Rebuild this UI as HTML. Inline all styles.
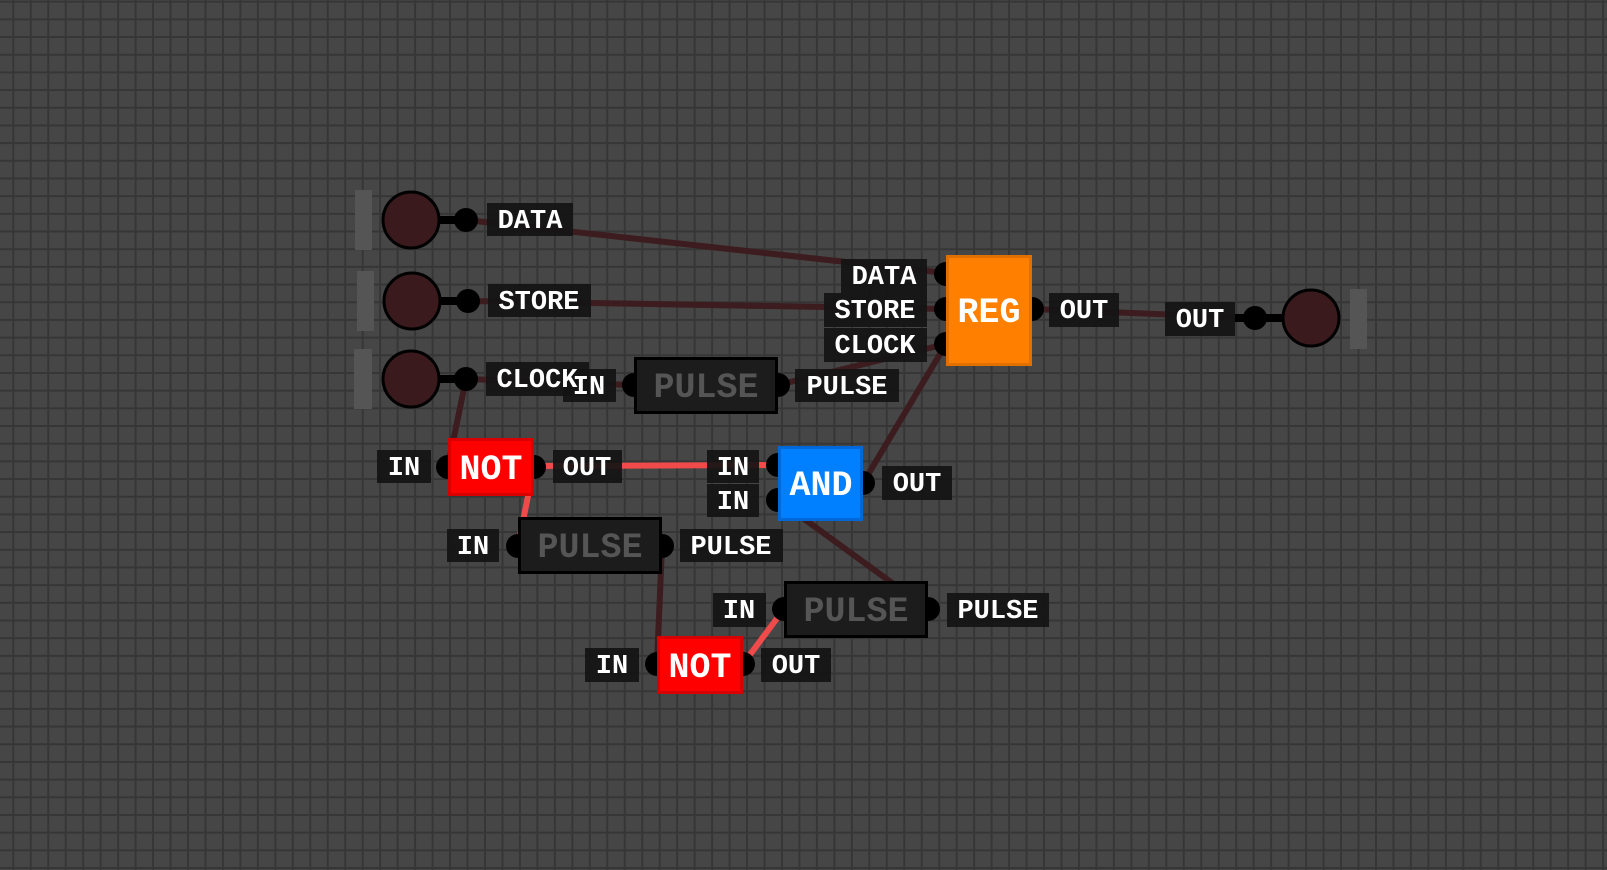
<!DOCTYPE html>
<html><head><meta charset="utf-8"><style>
html,body{margin:0;padding:0;background:#464646;}
svg{display:block;}
.l{fill:#141414;fill-opacity:.92}
.lt{font-family:"Liberation Mono",monospace;font-weight:bold;font-size:27px;fill:#fff;text-anchor:middle;dominant-baseline:central}
.nt{font-family:"Liberation Mono",monospace;font-weight:bold;font-size:35px;text-anchor:middle;dominant-baseline:central}
.w{stroke:#3c1c1e;stroke-width:6;fill:none}
.r{stroke:#f04a4a;stroke-width:6;fill:none}
</style></head><body>
<svg width="1607" height="870" viewBox="0 0 1607 870" xmlns="http://www.w3.org/2000/svg">
<defs>
<pattern id="gx" width="17.47" height="870" patternUnits="userSpaceOnUse" x="12.3" y="0"><rect width="2" height="870" fill="#363636"/></pattern>
<pattern id="gy" width="1607" height="17.68" patternUnits="userSpaceOnUse" x="0" y="0.7"><rect width="1607" height="2" fill="#363636"/></pattern>
</defs>
<rect width="1607" height="870" fill="#464646"/>
<rect width="1607" height="870" fill="url(#gx)"/>
<rect width="1607" height="870" fill="url(#gy)"/>

<line class="w" x1="466" y1="220" x2="946" y2="273"/>
<line class="w" x1="468" y1="301" x2="946" y2="309"/>
<line class="w" x1="466" y1="379" x2="632" y2="385"/>
<line class="w" x1="778" y1="385" x2="946" y2="344"/>
<line class="w" x1="466" y1="379" x2="448" y2="466"/>
<line class="w" x1="662" y1="546" x2="657" y2="664"/>
<line class="w" x1="928" y1="609" x2="778" y2="500"/>
<line class="w" x1="863" y1="483" x2="946" y2="344"/>
<line class="w" x1="1032" y1="309" x2="1255" y2="318"/>
<line class="r" x1="534" y1="466" x2="778" y2="465"/>
<line class="r" x1="534" y1="466" x2="518" y2="546"/>
<line class="r" x1="743" y1="664" x2="784" y2="609"/>

<rect x="355" y="190" width="17" height="60" fill="#555"/>
<rect x="357" y="271" width="17" height="60" fill="#555"/>
<rect x="354" y="349" width="18" height="60" fill="#555"/>
<g stroke="#000" stroke-width="8"><line x1="430" y1="220" x2="466" y2="220"/><line x1="430" y1="301" x2="468" y2="301"/><line x1="430" y1="379" x2="466" y2="379"/><line x1="1235" y1="318" x2="1290" y2="318"/></g>
<g fill="#3a1a1c" stroke="#000" stroke-width="3">
<circle cx="411" cy="220" r="28"/><circle cx="412" cy="301" r="28"/><circle cx="411" cy="379" r="28"/><circle cx="1311" cy="318" r="28"/>
</g>
<g fill="#000"><circle cx="466" cy="220" r="12"/><circle cx="468" cy="301" r="12"/><circle cx="466" cy="379" r="12"/><circle cx="1255" cy="318" r="12"/></g>
<rect x="1350" y="289" width="17" height="60" fill="#555"/>

<rect class="l" x="487" y="203" width="86" height="33"/><text class="lt" x="530" y="220" dy="2">DATA</text>
<rect class="l" x="488" y="284" width="103" height="33"/><text class="lt" x="539" y="301" dy="2">STORE</text>
<rect class="l" x="486" y="362" width="103" height="34"/>
<rect class="l" x="563" y="369" width="53" height="33"/><text class="lt" x="589" y="386" dy="2">IN</text>
<text class="lt" x="537" y="379" dy="2">CLOCK</text>
<rect class="l" x="795" y="369" width="104" height="33"/><text class="lt" x="847" y="386" dy="2">PULSE</text>
<rect class="l" x="841" y="259" width="86" height="34"/><text class="lt" x="884" y="276" dy="2">DATA</text>
<rect class="l" x="824" y="293" width="103" height="34"/><text class="lt" x="875" y="310" dy="2">STORE</text>
<rect class="l" x="824" y="328" width="103" height="34"/><text class="lt" x="875" y="345" dy="2">CLOCK</text>
<rect class="l" x="1049" y="293" width="70" height="34"/><text class="lt" x="1084" y="310" dy="2">OUT</text>
<rect class="l" x="1165" y="302" width="70" height="34"/><text class="lt" x="1200" y="319" dy="2">OUT</text>
<rect class="l" x="377" y="450" width="54" height="33"/><text class="lt" x="404" y="467" dy="2">IN</text>
<rect class="l" x="553" y="450" width="69" height="33"/><text class="lt" x="587" y="467" dy="2">OUT</text>
<rect class="l" x="707" y="450" width="52" height="33"/><text class="lt" x="733" y="467" dy="2">IN</text>
<rect class="l" x="707" y="484" width="52" height="33"/><text class="lt" x="733" y="501" dy="2">IN</text>
<rect class="l" x="882" y="466" width="70" height="34"/><text class="lt" x="917" y="483" dy="2">OUT</text>
<rect class="l" x="447" y="529" width="52" height="33"/><text class="lt" x="473" y="546" dy="2">IN</text>
<rect class="l" x="680" y="529" width="103" height="33"/><text class="lt" x="731" y="546" dy="2">PULSE</text>
<rect class="l" x="713" y="593" width="53" height="34"/><text class="lt" x="739" y="610" dy="2">IN</text>
<rect class="l" x="947" y="593" width="102" height="34"/><text class="lt" x="998" y="610" dy="2">PULSE</text>
<rect class="l" x="585" y="648" width="54" height="34"/><text class="lt" x="612" y="665" dy="2">IN</text>
<rect class="l" x="761" y="648" width="70" height="34"/><text class="lt" x="796" y="665" dy="2">OUT</text>

<g fill="#000">
<circle cx="634" cy="385" r="12"/><circle cx="778" cy="385" r="12"/>
<circle cx="946" cy="274" r="12"/><circle cx="946" cy="309" r="12"/><circle cx="946" cy="344" r="12"/><circle cx="1032" cy="309" r="12"/>
<circle cx="448" cy="467" r="12"/><circle cx="534" cy="467" r="12"/>
<circle cx="778" cy="465" r="12"/><circle cx="778" cy="500" r="12"/><circle cx="863" cy="483" r="12"/>
<circle cx="518" cy="546" r="12"/><circle cx="662" cy="546" r="12"/>
<circle cx="784" cy="609" r="12"/><circle cx="928" cy="609" r="12"/>
<circle cx="657" cy="664" r="12"/><circle cx="743" cy="664" r="12"/>
</g>

<rect x="635.5" y="358.5" width="141" height="54" fill="#1c1c1c" stroke="#000" stroke-width="3"/><text class="nt" x="706" y="386" dy="2" fill="#555">PULSE</text>
<rect x="519.5" y="518.5" width="141" height="54" fill="#1c1c1c" stroke="#000" stroke-width="3"/><text class="nt" x="590" y="546" dy="2" fill="#555">PULSE</text>
<rect x="785.5" y="582.5" width="141" height="54" fill="#1c1c1c" stroke="#000" stroke-width="3"/><text class="nt" x="856" y="610" dy="2" fill="#555">PULSE</text>
<rect x="947.5" y="256.5" width="83" height="108" fill="#ff8000" stroke="#e07000" stroke-width="3"/><text class="nt" x="989" y="311" dy="2" fill="#fff">REG</text>
<rect x="449.5" y="439.5" width="83" height="55" fill="#ff0000" stroke="#d80000" stroke-width="3"/><text class="nt" x="491" y="468" dy="2" fill="#fff">NOT</text>
<rect x="658.5" y="637.5" width="83" height="55" fill="#ff0000" stroke="#d80000" stroke-width="3"/><text class="nt" x="700" y="666" dy="2" fill="#fff">NOT</text>
<rect x="779.5" y="447.5" width="82" height="72" fill="#0080ff" stroke="#0068d8" stroke-width="3"/><text class="nt" x="821" y="484" dy="2" fill="#fff">AND</text>
</svg>
</body></html>
